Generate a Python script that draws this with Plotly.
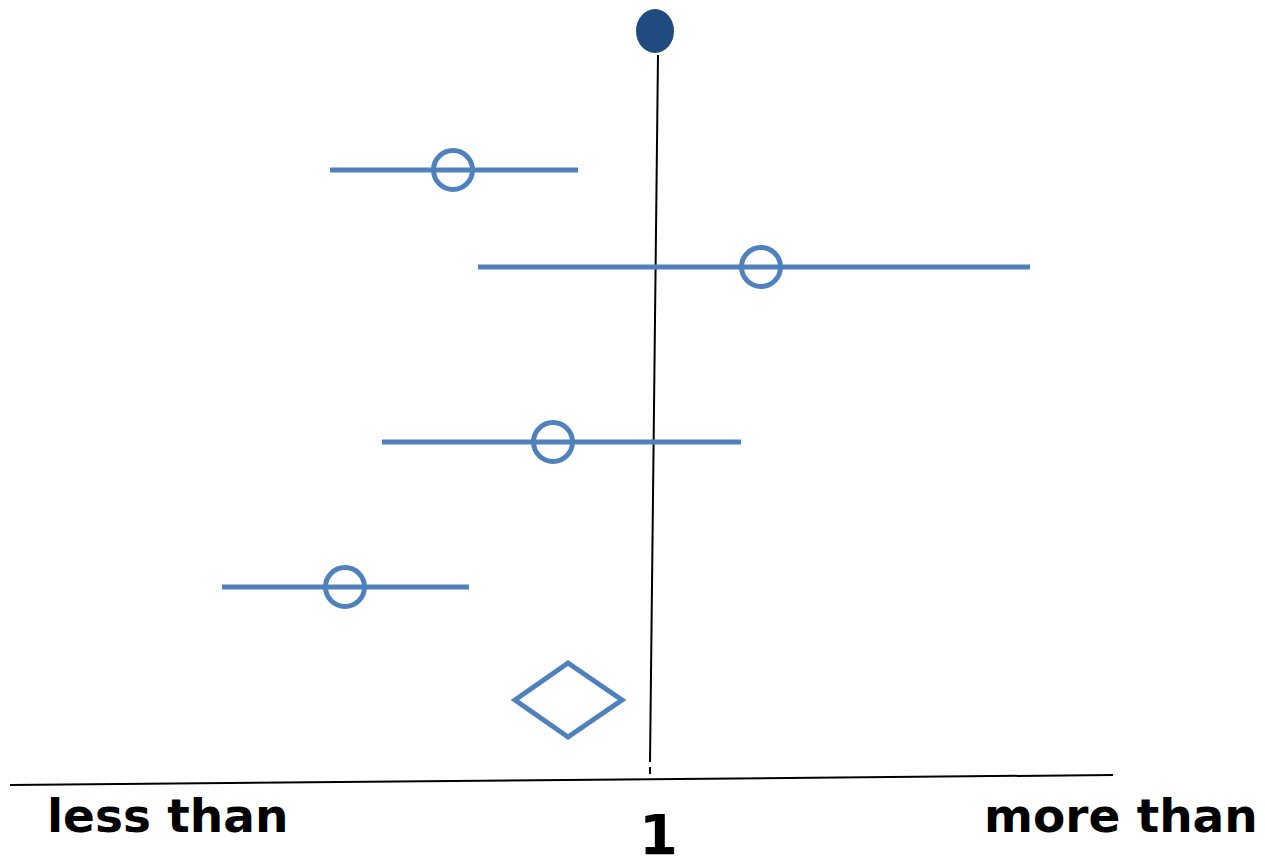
import plotly.graph_objects as go

# Study estimates (horizontal position on the effect scale) and confidence limits
study_rows = [170, 267, 442, 587]
study_est = [453, 761, 553, 345]
study_lo = [330, 478, 382, 222]
study_hi = [578, 1030, 741, 469]

# Pooled estimate (diamond)
pooled_row = 700
pooled_est = 568
pooled_lo = 515
pooled_hi = 622

# Reference ("1") line and axis
ref_top = (658, 55)
ref_bottom = (650, 762)
axis_left = (10, 785)
axis_right = (1113, 775)
top_marker = (655, 31)

labels = {"left": "less than", "right": "more than", "center": "1"}

BLUE = "#4F81BD"
NAVY = "#1F4B80"
FONT = "DejaVu Sans"
PAGE_OFFSET = 8  # default body margin of the html page

fig = go.Figure()

# reference vertical line
fig.add_trace(go.Scatter(x=[ref_top[0], ref_bottom[0]], y=[ref_top[1], ref_bottom[1]],
                         mode="lines", line=dict(color="black", width=2), hoverinfo="skip"))
fig.add_trace(go.Scatter(x=[ref_bottom[0], ref_bottom[0]], y=[ref_bottom[1] + 5, ref_bottom[1] + 12],
                         mode="lines", line=dict(color="black", width=2), hoverinfo="skip"))
# axis line
fig.add_trace(go.Scatter(x=[axis_left[0], axis_right[0]], y=[axis_left[1], axis_right[1]],
                         mode="lines", line=dict(color="black", width=2), hoverinfo="skip"))

# confidence intervals
for r, lo, hi in zip(study_rows, study_lo, study_hi):
    fig.add_trace(go.Scatter(x=[lo, hi], y=[r, r], mode="lines",
                             line=dict(color=BLUE, width=5), hoverinfo="skip"))

# point estimates (open circles, line visible through them)
fig.add_trace(go.Scatter(x=study_est, y=study_rows, mode="markers",
                         marker=dict(symbol="circle-open", size=39, color=BLUE,
                                     line=dict(color=BLUE, width=5))))

# pooled diamond
h = 37
fig.add_trace(go.Scatter(x=[pooled_lo, pooled_est, pooled_hi, pooled_est, pooled_lo, pooled_est],
                         y=[pooled_row, pooled_row - h, pooled_row, pooled_row + h, pooled_row, pooled_row - h],
                         mode="lines", line=dict(color=BLUE, width=5), hoverinfo="skip"))

# top filled ellipse
fig.add_shape(type="circle", xref="x", yref="y",
              x0=top_marker[0] - 19, x1=top_marker[0] + 19,
              y0=top_marker[1] - 22, y1=top_marker[1] + 22,
              fillcolor=NAVY, line=dict(color=NAVY, width=0))

fig.add_annotation(x=45, y=815, text="<b>" + labels["left"] + "</b>", showarrow=False,
                   xanchor="left", yanchor="middle", font=dict(family=FONT, size=47, color="black"))
fig.add_annotation(x=1260, y=815, text="<b>" + labels["right"] + "</b>", showarrow=False,
                   xanchor="right", yanchor="middle", font=dict(family=FONT, size=47, color="black"))
fig.add_annotation(x=658, y=834, text="<b>" + labels["center"] + "</b>", showarrow=False,
                   xanchor="center", yanchor="middle", font=dict(family=FONT, size=56, color="black"))

W, H = 1265, 865
fig.update_layout(width=W - PAGE_OFFSET, height=H - PAGE_OFFSET, margin=dict(l=0, r=0, t=0, b=0),
                  paper_bgcolor="white", plot_bgcolor="white", showlegend=False,
                  xaxis=dict(range=[PAGE_OFFSET, W], visible=False, fixedrange=True),
                  yaxis=dict(range=[H, PAGE_OFFSET], visible=False, fixedrange=True))

fig.write_html("out.html", config={"displayModeBar": False})
